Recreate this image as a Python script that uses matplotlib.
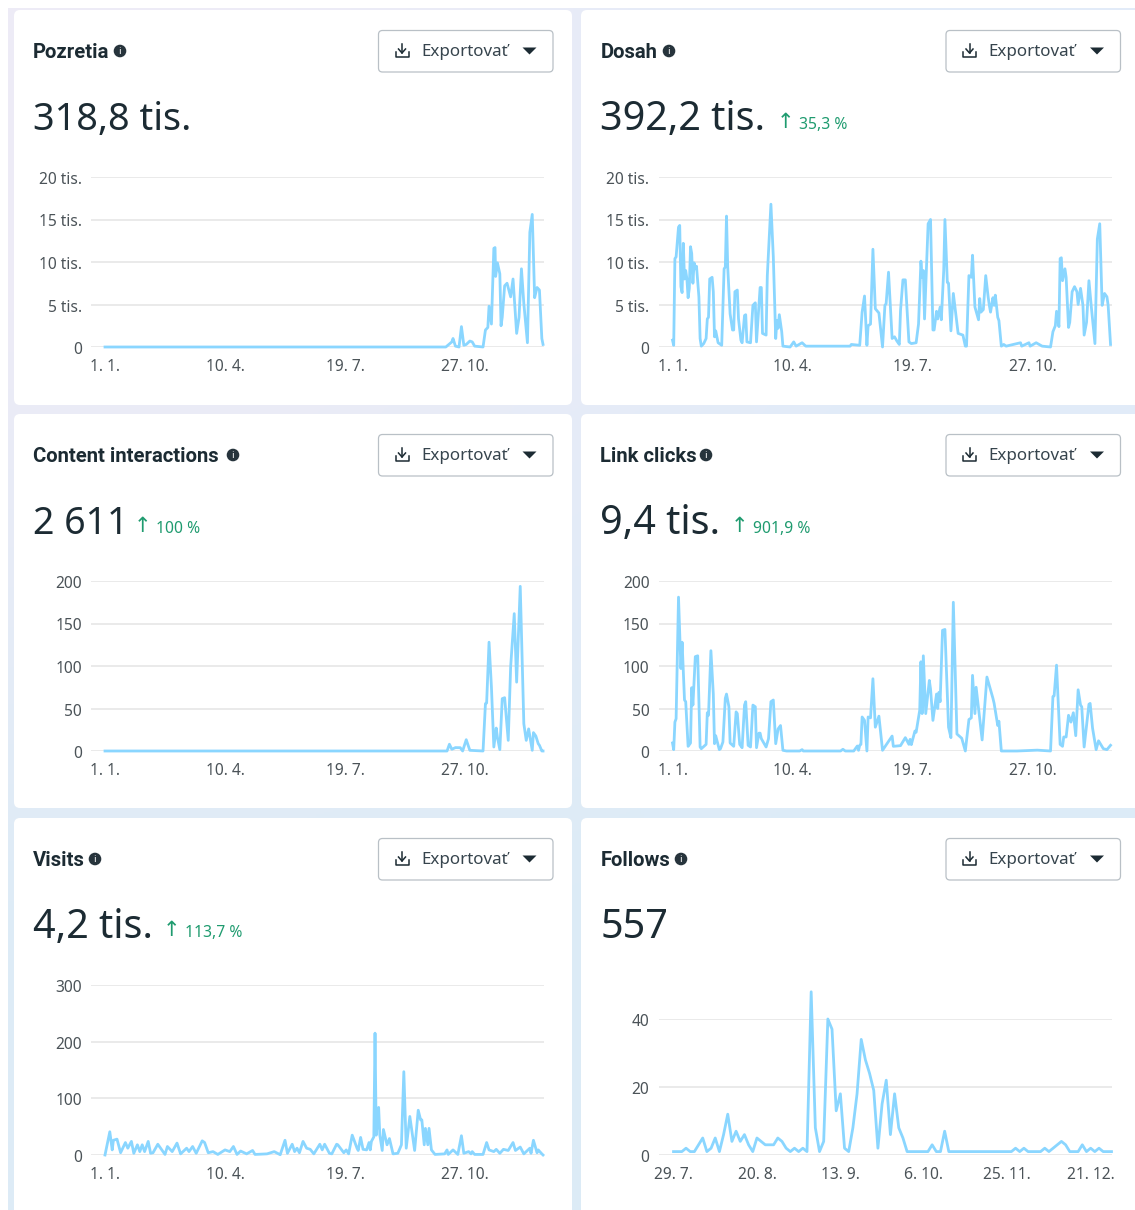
import numpy as np
import matplotlib.pyplot as plt
from matplotlib.patches import FancyBboxPatch, Circle, Polygon
from matplotlib.transforms import ScaledTranslation

plt.rcParams['font.family'] = ['Noto Sans', 'DejaVu Sans']

# DATA *****************************************************************

date_ticks = [0, 100, 200, 300]
date_labels = ['1. 1.', '10. 4.', '19. 7.', '27. 10.']

pozretia_days = [0, 284, 289, 290, 292, 295, 297, 299, 301, 304, 306, 308, 315, 317, 319, 320, 322, 324, 325, 325.5, 327, 329,
                 330, 331, 333, 335, 338, 340, 343, 345, 347, 349, 352, 354, 356, 358, 360, 362, 364, 365]
pozretia_vals = [0, 0, 0.6, 1.0, 0.1, 0, 2.4, 0.2, 0.3, 0.7, 0.6, 0.1, 0, 2.0, 2.3, 4.8, 2.7, 11.6, 11.7, 8.3, 9.9, 8.6,
                 2.5, 3.5, 7.2, 7.5, 5.9, 8.0, 1.6, 3.5, 9.2, 5.1, 0.5, 13.5, 15.6, 5.8, 7.0, 6.7, 1.0, 0.3]

dosah_days = [0, 1, 2, 3, 5, 6, 7, 8, 9, 10, 11, 12, 13, 14, 15, 16, 17, 18, 19, 20, 22, 23, 24, 26, 28, 29, 30, 31, 33, 34, 35, 36,
              38, 41, 43, 44, 45, 46, 48, 50, 51, 52, 54, 55, 57, 58, 60, 61, 62, 65, 67, 69, 70, 73, 74, 75, 78, 79, 82, 84,
              86, 87, 88, 89, 91, 92, 98, 101, 103, 108, 111, 123, 148, 149, 156, 158, 160, 162, 163, 165, 167, 169, 172, 175,
              177, 178, 180, 183, 185, 187, 189, 190, 192, 194, 197, 199, 203, 205, 207, 208, 209, 210, 213, 215, 217, 218,
              220, 221, 223, 224, 226, 227, 229, 230, 232, 234, 238, 242, 244, 245, 247, 249, 250, 252, 255, 256, 257, 259,
              261, 263, 264, 265, 267, 268, 269, 271, 272, 274, 276, 278, 290, 291, 297, 298, 303, 308, 315, 317, 319, 320,
              322, 323, 324, 325, 327, 328, 330, 331, 333, 335, 337, 338, 340, 342, 343, 345, 347, 349, 352, 354, 356, 358,
              360, 362, 363, 365]
dosah_vals = [0.8, 0.2, 10.4, 10.6, 14.1, 14.3, 7.1, 6.4, 12.2, 8.0, 9.0, 8.0, 5.8, 6.9, 11.8, 11.0, 7.5, 9.9, 9.2, 9.5, 5.9, 1.0, 0.1, 0.4, 1.0, 3.3, 3.5, 8.0, 8.2, 6.5, 1.2, 1.9,
              0.5, 0.2, 9.2, 9.4, 15.4, 9.4, 3.9, 2.0, 2.0, 6.5, 6.7, 3.3, 0.8, 0.5, 3.7, 3.8, 0.6, 0.5, 4.9, 5.2, 0.6, 7.0, 7.0, 1.6, 1.4, 8.4, 16.8, 10.6,
              1.0, 3.1, 2.2, 3.8, 1.8, 0.1, 0, 0.6, 0.1, 0.5, 0.1, 0.1, 0.1, 0.3, 0.2, 4.1, 6.0, 0.2, 2.5, 2.7, 11.5, 4.5, 4.0, 0,
              4.9, 5.1, 8.8, 1.0, 1.2, 0.7, 0.3, 4.3, 7.9, 7.9, 0.6, 0.4, 0.5, 2.7, 10.1, 8.2, 9.0, 3.3, 14.5, 15.0, 2.0, 2.0,
              4.2, 3.3, 4.7, 3.2, 9.0, 15.0, 7.6, 7.5, 1.9, 6.3, 1.6, 1.4, 0.1, 0.1, 8.4, 8.2, 10.8, 4.7, 3.2, 5.7, 4.1, 4.4,
              8.4, 5.9, 4.9, 4.1, 5.8, 4.9, 6.1, 3.5, 3.1, 0.1, 0.3, 0.1, 0.5, 0.1, 0.5, 0.1, 0.5, 0.1, 0, 1.8, 2.5, 4.2,
              2.4, 10.4, 10.5, 7.8, 9.2, 8.2, 2.3, 2.9, 6.5, 7.1, 6.5, 5.0, 6.9, 4.9, 1.4, 2.9, 7.8, 4.7, 0.4, 12.7, 14.5, 4.9,
              6.3, 5.9, 4.9, 0.3]

content_days = [0, 285, 287, 289, 292, 296, 298, 301, 304, 315, 317, 318, 320, 322, 324, 326, 327, 329, 331, 333, 336, 338, 341, 343, 346, 349, 351, 353, 356, 357, 359, 361, 362, 364, 365]
content_vals = [0, 0, 8, 2, 4, 3.9, 0, 13.3, 0.8, 0, 55.7, 56.5, 128, 75, 4.7, 27, 16, 1.6, 61.6, 62.7, 12.5, 98.8, 161.6, 81, 193.7, 32, 12.5, 26, 0.8, 21.6, 17.6, 8.6, 6.7, 0, 0]

links_days = [0, 1, 2, 3, 5, 7, 8, 10, 11, 13, 15, 16, 17, 19, 21, 23, 24, 28, 29, 30, 32, 34, 35, 36, 39, 40, 42, 44, 45, 47, 48, 51, 53, 54, 56, 58,
              60, 61, 63, 65, 67, 69, 70, 72, 73, 74, 78, 80, 82, 84, 86, 88, 90, 92, 95, 106, 108, 109, 140, 142, 144, 151, 154, 155, 156, 157, 158, 160,
              162, 163, 165, 167, 169, 172, 175, 183, 184, 190, 194, 197, 198, 199, 202, 203, 206, 207, 208, 209, 211, 214, 215, 217, 220, 221, 222, 223,
              225, 227, 230, 232, 234, 237, 241, 244, 247, 249, 250, 252, 253, 255, 258, 262, 267, 268, 271, 272, 274, 287, 304, 315, 317, 318, 320, 323,
              325, 326, 328, 330, 332, 334, 336, 338, 340, 341, 343, 347, 348, 350, 353, 355, 359, 362, 365]
links_vals = [9.4, 1.6, 34, 38, 181, 97, 128, 60, 58, 5.5, 9.4, 74.5, 54, 111, 112, 4.7, 2.7, 7.8, 45, 42, 118, 67, 8.6, 18, 1.6, 2.7, 10.6, 62, 67, 52, 9.4, 5.5, 46, 44, 7.8, 3.9,
              54, 58, 6.7, 4.7, 54, 52, 3.9, 21, 21, 14.5, 4.7, 14.5, 58, 60, 8.6, 26, 30, 0.8, 0, 0, 1.6, 0, 0, 2, 0, 0, 5.9, 0.8, 6.7, 7.8, 40, 36,
              0, 40, 39, 85, 28, 41, 0.8, 17.6, 5.5, 6.3, 15.7, 7.8, 13.7, 7.5, 23.5, 22, 48, 105, 44, 112, 44, 83, 73, 36, 67, 50, 69, 58,
              142, 143, 28, 15.7, 175, 20, 15, 0, 37, 39, 89, 44, 75, 50, 13, 87, 62, 56, 30, 35, 0, 0, 1, 0, 64, 65, 101, 7.8,
              5.5, 16.5, 16.5, 42, 34, 45, 18, 72, 54, 52, 4.7, 55, 56, 27, 1.6, 12, 2.7, 1.6, 6.7]

visits_days = [0, 4, 6, 7, 10, 13, 17, 19, 22, 24, 27, 29, 31, 33, 36, 38, 40, 44, 50, 52, 56, 60, 63, 68, 70, 73, 76, 81, 83, 86, 90, 94, 100, 104, 107, 110, 113, 118, 123, 125, 135, 141, 146,
               150, 152, 156, 158, 160, 162, 165, 168, 171, 174, 179, 181, 183, 187, 189, 193, 194, 199, 201, 203, 206, 210, 211, 213, 215, 218, 220, 221, 222, 224, 225, 226, 228, 229, 231,
               232, 235, 237, 240, 244, 247, 249, 251, 254, 258, 261, 263, 264, 266, 267, 269, 270, 272, 275, 283, 285, 286, 290, 294, 297, 299, 303, 305, 306, 308, 315, 318, 320, 324, 326,
               329, 332, 336, 340, 342, 346, 349, 354, 355, 357, 360, 361, 364, 365]
visits_vals = [0, 41, 9, 26, 28, 4, 22, 12, 24, 3, 18, 6, 18, 6, 24, 3, 4, 19, 1, 15, 6, 21, 2, 12, 6, 15, 3, 25, 22, 4, 6, 1, 9, 6, 15, 1, 7, 2, 8, 1, 2, 6, 0.5,
               26, 3, 19, 6, 12, 4, 24, 12, 10, 2, 19, 9, 19, 3, 2, 19, 18, 4, 9, 2, 35, 12, 8, 31, 10, 9, 22, 9, 24, 32, 215, 35, 84, 35, 8,
               45, 18, 29, 2, 3, 18, 147, 12, 68, 8, 79, 62, 62, 18, 47, 18, 47, 9, 1, 2, 9, 1, 9, 1, 34, 3, 6, 2, 6, 1, 1, 22, 9, 6, 10,
               3, 10, 8, 22, 8, 14, 2, 12, 3, 26, 4, 9, 2, 0]

follows_ticks = [0, 20, 40, 60, 80, 100]
follows_labels = ['29. 7.', '20. 8.', '13. 9.', '6. 10.', '25. 11.', '21. 12.']
follows_vals = [1, 1, 1, 2, 1, 1, 3, 5, 1, 2, 5, 1, 6, 12, 4, 7, 4, 6, 3, 1, 5, 4, 3, 3, 3, 5, 4, 2, 1, 2, 1, 2, 1,
                48, 8, 1, 4, 40, 37, 13, 18, 2, 1, 8, 18, 34, 28, 24, 19, 2, 15, 22, 6, 18, 8, 5, 1, 1, 1, 1, 1, 1, 3, 1, 1, 7, 1,
                1, 1, 1, 1, 1, 1, 1, 1, 1, 1, 1, 1, 1, 1, 1, 2, 1, 2, 1, 1, 1, 1, 2, 1, 2, 3, 4, 3, 1, 1, 1, 3, 1, 2, 1, 2, 1, 1, 1]

titles = ['Pozretia', 'Dosah', 'Content interactions', 'Link clicks', 'Visits', 'Follows']
totals = ['318,8 tis.', '392,2 tis.', '2 611', '9,4 tis.', '4,2 tis.', '557']
changes = [None, '35,3 %', '100 %', '901,9 %', '113,7 %', None]
info_x = [120, 669, 233, 706, 95, 681]
arrow_x = [None, 785, 142, 739, 171, None]

tis_ticks = [0, 5, 10, 15, 20]
tis_labels = ['0', '5 tis.', '10 tis.', '15 tis.', '20 tis.']
hundred_ticks = [0, 50, 100, 150, 200]
visit_ticks = [0, 100, 200, 300]
follow_yticks = [0, 20, 40]

# FIGURE ***************************************************************

W, H = 1135, 1210
fig = plt.figure(figsize=(W / 100, H / 100), dpi=100, facecolor='white')

# page behind the cards, in pixel coordinates
bg = fig.add_axes([0, 0, 1, 1], zorder=0)
bg.axis('off')
grad = np.array([[[0.93, 0.925, 0.965], [0.89, 0.925, 0.975]],
                 [[0.87, 0.925, 0.965], [0.86, 0.925, 0.97]]])
bg.imshow(grad, extent=[8, W, H, 8], aspect='auto', interpolation='bilinear', zorder=0)
bg.set_xlim(0, W)
bg.set_ylim(H, 0)

INK = '#1c2b33'
GREEN = '#1f9b6f'
LINE = '#8ad6ff'
col_x = [0, 567.5]
row_y = [0, 404, 808]
card_h = [395, 394, 400]
total_sizes = [27.3, 28.5, 27, 28.5, 28.5, 28.5]


def chrome(i, col, row):
    dx, dy = col_x[col], row_y[row]
    x0 = 14 if col == 0 else 581
    x1 = 572 if col == 0 else 1145
    bg.add_patch(FancyBboxPatch((x0 + 4, 10 + dy + 4), x1 - x0 - 8, card_h[row] - 8, boxstyle='round,pad=4,rounding_size=6',
                                fc='white', ec='none', zorder=1))
    # title and info icon
    bg.text(33 + dx, 52 + dy, titles[i], fontsize=14.6, family='Roboto', fontweight='bold', color=INK, va='center', ha='left', zorder=3)
    bg.add_patch(Circle((info_x[i], 51 + dy), 6.3, fc='#27343c', ec='none', zorder=3))
    bg.text(info_x[i], 51 + dy, 'i', fontsize=7, fontweight='bold', color='white', va='center', ha='center', zorder=4)
    # export button
    bg.add_patch(FancyBboxPatch((381.5 + dx, 33.5 + dy), 168.5, 35.5, boxstyle='round,pad=3,rounding_size=4',
                                fc='white', ec='#b9c0c6', lw=0.9, zorder=3))
    bx, by = 402 + dx, 51 + dy
    bg.plot([bx, bx], [by - 7, by + 2], color=INK, lw=1.1, zorder=4)
    bg.plot([bx - 3.5, bx, bx + 3.5], [by - 2, by + 2, by - 2], color=INK, lw=1.1, zorder=4)
    bg.plot([bx - 6.5, bx - 6.5, bx + 6.5, bx + 6.5], [by + 1, by + 6, by + 6, by + 1], color=INK, lw=1.1, zorder=4)
    bg.text(421 + dx, 52 + dy, 'Exportovať', fontsize=12.2, color='#36444d', va='center', ha='left', zorder=4)
    bg.add_patch(Polygon([(522.5 + dx, 47.5 + dy), (536.5 + dx, 47.5 + dy), (529.5 + dx, 54.5 + dy)], fc=INK, ec='none', zorder=4))
    # big number and change
    bg.text(33 + dx, 130 + dy, totals[i], fontsize=total_sizes[i], color=INK, va='baseline', ha='left', zorder=3)
    if changes[i]:
        bg.text(arrow_x[i], 122 + dy, '↑', fontsize=15, color=GREEN, va='center', ha='center', zorder=3)
        bg.text(arrow_x[i] + 14, 125 + dy, changes[i], fontsize=11.3, color=GREEN, va='center', ha='left', zorder=3)


def chart(col, top, bottom, x, y, xticks, xlabels, xlim, yticks, ylabels):
    left = 91 + col_x[col]
    right = 544 + col_x[col]
    ax = fig.add_axes([left / W, 1 - bottom / H, (right - left) / W, (bottom - top) / H], zorder=2)
    ax.patch.set_alpha(0)
    ax.plot(x, y, color=LINE, lw=2.0, clip_on=False, solid_joinstyle='round', zorder=3)
    ax.set_xlim(*xlim)
    ax.set_ylim(yticks[0], yticks[-1])
    ax.set_xticks(xticks)
    ax.set_xticklabels(xlabels, fontsize=11.2, color='#4b5358')
    ax.set_yticks(yticks)
    ax.set_yticklabels(ylabels, fontsize=11.2, color='#4b5358')
    ax.tick_params(axis='both', length=0)
    ax.tick_params(axis='x', pad=8.5)
    ax.tick_params(axis='y', pad=6.5)
    # labels sit one pixel under their gridline
    shift = ScaledTranslation(0, -1 / 100, fig.dpi_scale_trans)
    for label in ax.get_yticklabels():
        label.set_transform(label.get_transform() + shift)
    ax.grid(axis='y', color='#e6e6e6', lw=1.2)
    ax.set_axisbelow(True)
    for s in ax.spines.values():
        s.set_visible(False)
    return ax


for i in range(6):
    chrome(i, i % 2, i // 2)

day_lim = (-11.67, 365.8)
chart(0, 177, 347, pozretia_days, pozretia_vals, date_ticks, date_labels, day_lim, tis_ticks, tis_labels)
chart(1, 177, 347, dosah_days, dosah_vals, date_ticks, date_labels, day_lim, tis_ticks, tis_labels)
chart(0, 581, 751, content_days, content_vals, date_ticks, date_labels, day_lim, hundred_ticks, [str(v) for v in hundred_ticks])
chart(1, 581, 751, links_days, links_vals, date_ticks, date_labels, day_lim, hundred_ticks, [str(v) for v in hundred_ticks])
chart(0, 985, 1155, visits_days, visits_vals, date_ticks, date_labels, day_lim, visit_ticks, [str(v) for v in visit_ticks])
chart(1, 1019, 1155, np.arange(len(follows_vals)), follows_vals, follows_ticks, follows_labels, (-3.6, 105), follow_yticks, [str(v) for v in follow_yticks])

fig.savefig('out.png', dpi=100)
